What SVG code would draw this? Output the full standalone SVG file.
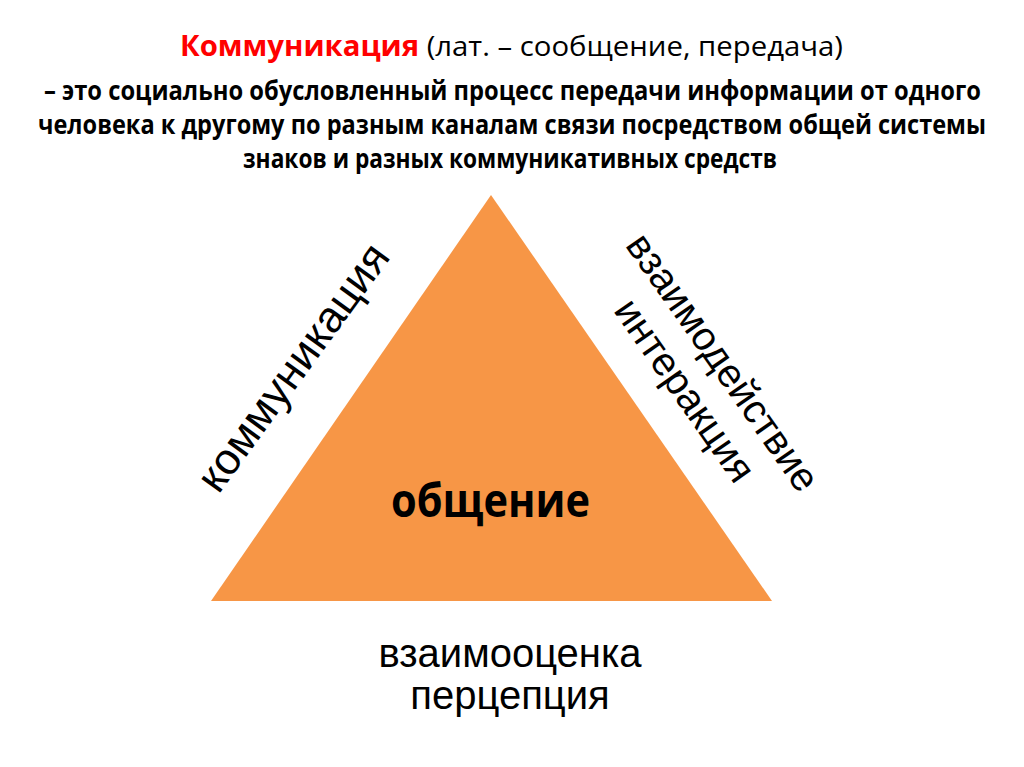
<svg xmlns="http://www.w3.org/2000/svg" width="1024" height="767" viewBox="0 0 1024 767">
<style>
.t{font-family:"Open Sans","Noto Sans","Liberation Sans",sans-serif;font-size:27px;fill:#000}
.b{font-weight:700}
.r{fill:#FF0000;font-weight:700}
.a{font-family:"Liberation Sans",Arial,sans-serif;font-size:40px;fill:#000}
</style>
<rect width="1024" height="767" fill="#FFFFFF"/>
<g id="title">
<text class="t" x="180" y="56" style="font-size:28px" textLength="663" lengthAdjust="spacingAndGlyphs"><tspan class="r">Коммуникация</tspan> (лат. – сообщение, передача)</text>
<text class="t b" x="44" y="100" textLength="937" lengthAdjust="spacingAndGlyphs">– это социально обусловленный процесс передачи информации от одного</text>
<text class="t b" x="38" y="134" textLength="948" lengthAdjust="spacingAndGlyphs">человека к другому по разным каналам связи посредством общей системы</text>
<text class="t b" x="243" y="168" textLength="534" lengthAdjust="spacingAndGlyphs">знаков и разных коммуникативных средств</text>
</g>
<g id="triangle">
<polygon points="491,195 772,601 211,601" fill="#F79646"/>
<text class="t b" x="391" y="517" style="font-size:46px" textLength="199" lengthAdjust="spacingAndGlyphs">общение</text>
</g>
<g id="left-label">
<text class="a" style="font-size:44px" text-anchor="middle" transform="translate(305,376) rotate(-54)">коммуникация</text>
</g>
<g id="right-label">
<text class="a" text-anchor="middle" transform="translate(712,370) rotate(55)">взаимодействие</text>
<text class="a" text-anchor="middle" transform="translate(674,398) rotate(55)">интеракция</text>
</g>
<g id="bottom-label">
<text class="a" x="510" y="667" text-anchor="middle">взаимооценка</text>
<text class="a" x="510" y="709" text-anchor="middle">перцепция</text>
</g>
<g id="connectors"></g>
</svg>
